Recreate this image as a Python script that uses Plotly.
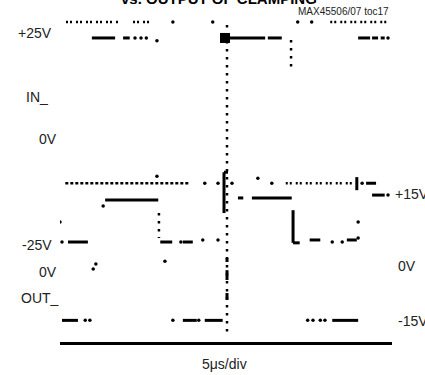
import plotly.graph_objects as go

# Time axis: microseconds, 5 us/div, trigger at t = 0
T_RANGE = [-25.0, 25.0]
IN_RANGE = [-49.5, 29.4]    # IN_ channel volts
OUT_RANGE = [-20.3, 58.6]   # OUT_ channel volts

# ---- IN_ channel (V) ----
IN_SOLID = [  # (t0, v0, t1, v1)
    (-20.2, 25.0, -16.7, 25.0), (-15.5, 25.0, -14.5, 25.0),
    (0.45, 25.0, 5.9, 25.0), (6.3, 25.0, 8.4, 25.0),
    (19.9, 25.0, 21.7, 25.0), (22.0, 25.0, 22.9, 25.0), (23.3, 25.0, 23.9, 25.0),
    (-23.8, -25.0, -20.8, -25.0), (-9.9, -25.0, -8.1, -25.0), (-6.5, -25.0, -5.0, -25.0),
    (10.1, -17.2, 10.1, -25.2), (10.1, -25.2, 11.1, -25.2),
    (12.6, -24.5, 14.2, -24.5), (18.2, -24.5, 19.7, -24.5),
    (0.15, -28.9, 0.15, -29.9), (0.15, -31.9, 0.15, -34.3), (0.15, -37.5, 0.15, -39.2),
]
IN_BLOB = (-0.15, 25.0)
IN_ROW_DOTTED = [  # dotted rows (paired dots)
    (-24.1, 28.9, -16.0, 28.9), (-14.0, 28.9, -11.0, 28.9), (15.7, 28.9, 24.2, 28.9),
]
IN_VERT_DOTTED = [
    (0.15, 28.2, 0.15, -47.8), (9.8, 24.5, 9.8, 17.6), (-10.1, -17.9, -10.1, -24.0),
]
IN_DOT_T = [-8.0, -2.0, 10.8, 12.9, -13.7, -12.8, -12.0, -10.4, 24.4,
            -24.7, -25.0, -6.8, -3.5, -1.2, -20.0, -19.6, -9.2, 16.0, 17.5, 19.9, 19.9]
IN_DOT_V = [28.9, 28.9, 28.9, 28.9, 25.0, 25.0, 25.0, 24.3, 25.0,
            -25.0, -20.1, -25.0, -24.5, -24.5, -31.6, -30.4, -29.7, -25.0, -25.0, -24.0, -20.1]

# ---- OUT_ channel (V) ----
OUT_SOLID = [
    (-18.2, 14.5, -10.2, 14.5),
    (1.8, 15.0, 2.6, 15.0), (3.9, 15.0, 9.9, 15.0),
    (-0.3, 21.3, -0.3, 11.3), (-0.3, 21.3, 0.3, 21.3),
    (19.7, 20.1, 19.7, 16.9), (21.1, 18.6, 22.6, 18.6), (22.0, 15.7, 23.9, 15.7),
    (-24.7, -15.0, -22.3, -15.0), (-6.5, -15.0, -4.4, -15.0),
    (-3.2, -15.0, -0.5, -15.0), (16.0, -15.0, 19.9, -15.0),
]
OUT_ROW_DENSE = [(-24.2, 18.6, -5.4, 18.6)]
OUT_ROW_PAIRS = [(9.0, 18.6, 19.4, 18.6)]
OUT_DOT_T = [-18.5, -10.4, -3.2, -1.2, 0.9, 4.8, 6.9, 20.5, 24.4,
             -21.2, -20.5, -8.0, -4.1, 12.3, 13.1, 14.2, 14.9]
OUT_DOT_V = [13.0, 20.3, 18.6, 18.6, 18.6, 19.8, 18.6, 18.6, 15.7,
             -15.0, -15.0, -15.0, -15.0, -15.0, -15.0, -15.0, -15.0]

LABELS = [  # text, px, py, anchor, size
    ("+25V", 54, 33, "right", 14), ("IN_", 24, 97, "left", 14), ("0V", 37, 139, "left", 14),
    ("-25V", 54, 245, "right", 14), ("0V", 37, 272, "left", 14), ("OUT_", 19, 298, "left", 14),
    ("+15V", 393, 194, "left", 14), ("0V", 396, 266, "left", 14), ("-15V", 396, 321, "left", 14),
    ("MAX45506/07 toc17", 343, 11, "center", 10), ("5μs/div", 224, 364, "center", 14),
]
TITLE = "vs. OUTPUT OF CLAMPING"

FONT = "Liberation Sans, Arial, sans-serif"


def seg_xy(segs):
    xs, ys = [], []
    for t0, v0, t1, v1 in segs:
        xs += [t0, t1, None]
        ys += [v0, v1, None]
    return xs, ys


fig = go.Figure()


def add_lines(segs, yaxis, width, dash="solid"):
    xs, ys = seg_xy(segs)
    fig.add_trace(go.Scatter(x=xs, y=ys, yaxis=yaxis, mode="lines", connectgaps=False,
                             line=dict(color="black", width=width, dash=dash),
                             hoverinfo="skip", showlegend=False))


def add_dots(ts, vs, yaxis, size=3.5, symbol="circle"):
    fig.add_trace(go.Scatter(x=ts, y=vs, yaxis=yaxis, mode="markers",
                             marker=dict(color="black", size=size, symbol=symbol, line=dict(width=0)),
                             hoverinfo="skip", showlegend=False))


add_lines(IN_SOLID, "y", 3)
add_lines(IN_ROW_DOTTED, "y", 2.5, "2px,2px,2px,4px")
add_lines(IN_VERT_DOTTED, "y", 2.5, "2.5px,5.5px")
add_dots(IN_DOT_T, IN_DOT_V, "y")
add_dots([IN_BLOB[0]], [IN_BLOB[1]], "y", size=10, symbol="square")

add_lines(OUT_SOLID, "y2", 3)
add_lines(OUT_ROW_DENSE, "y2", 2.5, "3px,2px")
add_lines(OUT_ROW_PAIRS, "y2", 2.5, "2px,2px,2px,4px")
add_dots(OUT_DOT_T, OUT_DOT_V, "y2")

L, R, T, B = 60, 33, 20, 33
W, H = 425, 375
pw, ph = W - L - R, H - T - B


def px_to_paper(px, py):
    return (px - L) / pw, (H - B - py) / ph


annotations = []
for text, px, py, anchor, size in LABELS:
    x, y = px_to_paper(px, py)
    annotations.append(dict(text=text, x=x, y=y, xref="paper", yref="paper",
                            xanchor=anchor, yanchor="middle", showarrow=False,
                            font=dict(family=FONT, size=size, color="#222")))
tx, ty = px_to_paper(219, -1)
annotations.append(dict(text="<b>" + TITLE + "</b>", x=tx, y=ty, xref="paper", yref="paper",
                        xanchor="center", yanchor="middle", showarrow=False,
                        font=dict(family=FONT, size=15, color="black")))

fig.update_layout(
    width=W, height=H, margin=dict(l=L, r=R, t=T, b=B),
    paper_bgcolor="white", plot_bgcolor="white",
    xaxis=dict(range=T_RANGE, showgrid=False, zeroline=False, showticklabels=False, ticks="",
               showline=True, linecolor="black", linewidth=3),
    yaxis=dict(range=IN_RANGE, showgrid=False, zeroline=False, showticklabels=False, ticks="",
               showline=False),
    yaxis2=dict(range=OUT_RANGE, overlaying="y", showgrid=False, zeroline=False,
                showticklabels=False, ticks="", showline=False),
    annotations=annotations,
)

fig.write_html("out.html")
